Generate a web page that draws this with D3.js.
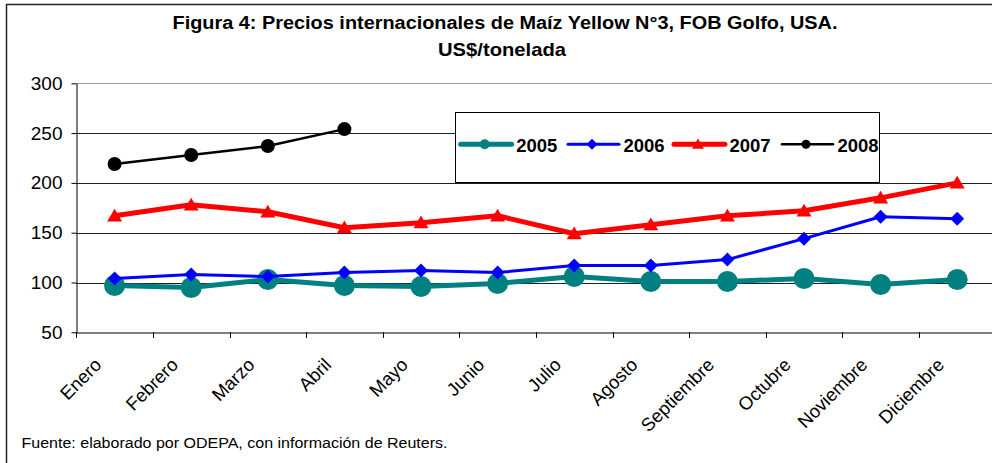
<!DOCTYPE html>
<html><head><meta charset="utf-8">
<script src="https://cdn.jsdelivr.net/npm/d3@7/dist/d3.min.js"></script>
<style>html,body{margin:0;padding:0;background:#fff;}svg{display:block;}</style>
</head><body>
<script>
const months = ["Enero","Febrero","Marzo","Abril","Mayo","Junio","Julio","Agosto","Septiembre","Octubre","Noviembre","Diciembre"];
const years = ["2005","2006","2007","2008"];
const v2005 = [97, 95, 103, 97, 96, 99, 106, 101, 101, 104, 98, 103];
const v2006 = [104, 108, 106, 110, 112, 110, 117, 117, 123, 144, 166, 164];
const v2007 = [167, 178, 171, 155, 160, 167, 149, 158, 167, 172, 185, 200];
const v2008 = [219, 228, 237, 254];
const yTicks = [50, 100, 150, 200, 250, 300];
const titleLine1 = "Figura 4: Precios internacionales de Maíz Yellow N°3, FOB Golfo, USA.";
const titleLine2 = "US$/tonelada";
const source = "Fuente: elaborado por ODEPA, con información de Reuters.";

const W = 992, H = 463;
const svg = d3.select("body").append("svg").attr("width", W).attr("height", H)
  .style("font-family", "'Liberation Sans', Arial, sans-serif");

svg.append("rect").attr("x", 6.5).attr("y", 4.5).attr("width", 1100).attr("height", 600)
  .attr("fill", "#fff").attr("stroke", "#222").attr("stroke-width", 1.5);

const x = d3.scaleBand().domain(months).range([76.3, 995.5]);
const y = d3.scaleLinear().domain([50, 300]).range([332.3, 83.3]);

// gridlines
svg.append("g").selectAll("line").data(yTicks.filter(d => d > 50)).join("line")
  .attr("x1", 76).attr("x2", 1000)
  .attr("y1", d => Math.round(y(d)) + 0.5).attr("y2", d => Math.round(y(d)) + 0.5)
  .attr("stroke", d => d === 300 ? "#999" : "#222").attr("stroke-width", 1);

// y axis
const yAxis = svg.append("g").attr("transform", "translate(76.5,0)")
  .call(d3.axisLeft(y).tickValues(yTicks).tickSize(5).tickPadding(9).tickSizeOuter(0));
yAxis.select(".domain").attr("stroke", "#000");
yAxis.selectAll(".tick line").attr("stroke", "#000");
yAxis.selectAll(".tick text").attr("font-size", 19).attr("fill", "#000")
  .style("font-family", "'Liberation Sans', Arial, sans-serif");

// x axis
const xAxis = svg.append("g").attr("transform", "translate(0,332.5)")
  .call(d3.axisBottom(x).tickSize(0).tickFormat(""));
xAxis.select(".domain").attr("stroke", "#000");
const bounds = [x.range()[0]].concat(months.map(m => x(m) + x.bandwidth()));
svg.append("g").selectAll("line").data(bounds).join("line")
  .attr("x1", d => Math.round(d) + 0.5).attr("x2", d => Math.round(d) + 0.5)
  .attr("y1", 332).attr("y2", 338).attr("stroke", "#000");
svg.append("g").selectAll("text").data(months).join("text")
  .attr("transform", d => `translate(${x(d) + x.bandwidth() / 2 - 12},366) rotate(-45)`)
  .attr("text-anchor", "end").attr("font-size", 18.5).attr("fill", "#000")
  .text(d => d);

// series
const series = [
  {name: "2005", values: v2005, color: "#008080", width: 5, marker: "circle", size: 10.5},
  {name: "2006", values: v2006, color: "#0000FF", width: 3, marker: "diamond", size: 7},
  {name: "2007", values: v2007, color: "#FF0000", width: 5, marker: "triangle", size: 7.5},
  {name: "2008", values: v2008, color: "#000000", width: 2.5, marker: "circle", size: 7}
];
const cx = i => x(months[i]) + x.bandwidth() / 2;
function markerPath(type, s) {
  if (type === "diamond") return `M0,${-s}L${s},0L0,${s}L${-s},0Z`;
  if (type === "triangle") return `M0,${-s * 0.95}L${s},${s * 0.75}L${-s},${s * 0.75}Z`;
  return null;
}
function drawMarker(g, type, s, color) {
  if (type === "circle") g.append("circle").attr("r", s).attr("fill", color);
  else g.append("path").attr("d", markerPath(type, s)).attr("fill", color);
}
const line = d3.line().x((d, i) => cx(i)).y(d => y(d));
series.forEach(s => {
  svg.append("path").datum(s.values).attr("d", line).attr("fill", "none")
    .attr("stroke", s.color).attr("stroke-width", s.width).attr("stroke-linejoin", "round");
  s.values.forEach((v, i) => {
    const g = svg.append("g").attr("transform", `translate(${cx(i)},${y(v)})`);
    drawMarker(g, s.marker, s.size, s.color);
  });
});

// legend
svg.append("rect").attr("x", 455.5).attr("y", 112.5).attr("width", 424).attr("height", 70)
  .attr("fill", "#fff").attr("stroke", "#000").attr("stroke-width", 1);
const legX = [460.7, 568, 674, 782];
const legSize = [5, 5.5, 6, 4.5];
series.forEach((s, i) => {
  const g = svg.append("g").attr("transform", `translate(${legX[i]},144.3)`);
  g.append("line").attr("x1", 0).attr("x2", 51).attr("stroke", s.color)
    .attr("stroke-width", s.width).attr("stroke-linecap", "round");
  const m = g.append("g").attr("transform", "translate(24,0)");
  drawMarker(m, s.marker, legSize[i], s.color);
  g.append("text").attr("x", 55.5).attr("y", 7.5).attr("font-size", 18.5)
    .attr("font-weight", "bold").attr("fill", "#000").text(years[i]);
});

// title
svg.append("text").attr("x", 505).attr("y", 29).attr("text-anchor", "middle")
  .attr("font-size", 18).attr("font-weight", "bold").attr("fill", "#000")
  .attr("textLength", 665).attr("lengthAdjust", "spacingAndGlyphs").text(titleLine1);
svg.append("text").attr("x", 502).attr("y", 56).attr("text-anchor", "middle")
  .attr("font-size", 18.5).attr("font-weight", "bold").attr("fill", "#000")
  .attr("textLength", 128).attr("lengthAdjust", "spacingAndGlyphs").text(titleLine2);

// source
svg.append("text").attr("x", 21.5).attr("y", 447.5).attr("font-size", 15.5).attr("fill", "#000")
  .attr("textLength", 426).attr("lengthAdjust", "spacingAndGlyphs").text(source);
</script>
</body></html>
